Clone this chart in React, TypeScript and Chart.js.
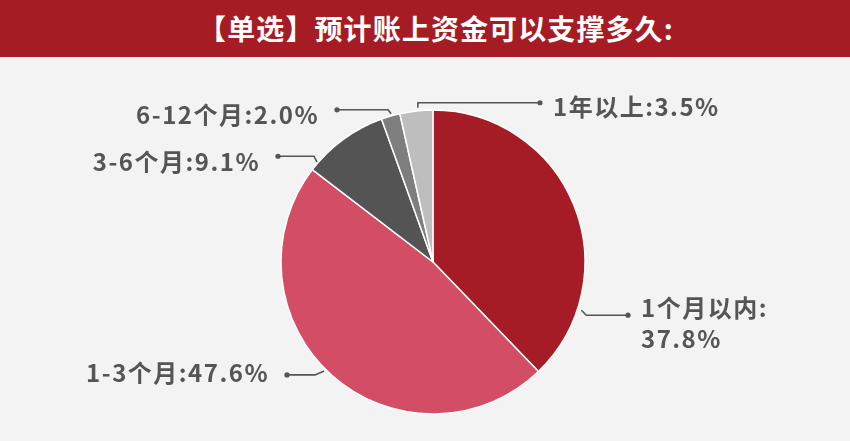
import React, { useEffect, useRef } from "react";
import { Chart, registerables } from "chart.js";

Chart.register(...registerables);

const TITLE = "【单选】预计账上资金可以支撑多久:";
const CATEGORIES = ["1个月以内", "1-3个月", "3-6个月", "6-12个月", "1年以上"];
const VALUES = [37.8, 47.6, 9.1, 2.0, 3.5];
const LABEL_LINES = [
  ["1个月以内:", "37.8%"],
  ["1-3个月:47.6%"],
  ["3-6个月:9.1%"],
  ["6-12个月:2.0%"],
  ["1年以上:3.5%"],
];
const COLORS = ["#A61C26", "#D34D64", "#545454", "#7E7E7E", "#BEBEBE"];

// leader-line layout (angle in degrees clockwise from top, offsets in px)
const LEADERS = [
  { angle: 108, extra: 4, ex: 5, ey: 5, dotDx: 195, side: "left", textDy: -7, lineGap: 31 },
  { angle: 225, extra: 2, ex: -9, ey: 4, dotDx: -146, side: "right", textDy: -2, lineGap: 0 },
  { angle: 310.7, extra: 1, ex: -3, ey: -6, dotDx: -155, side: "right", textDy: 6, lineGap: 0 },
  { angle: 344.2, extra: 2, ex: -3, ey: -4, dotDx: -96, side: "right", textDy: 5, lineGap: 0 },
  { angle: 354.4, extra: 3, ex: 0, ey: -5, dotDx: 107, side: "left", textDy: 4, lineGap: 0 },
];

const FONT = '"Noto Sans CJK SC", "Noto Sans", sans-serif';

const leaderPlugin = {
  id: "leaders",
  afterDraw(chart: any) {
    const meta = chart.getDatasetMeta(0);
    const ctx = chart.ctx as CanvasRenderingContext2D;
    ctx.save();
    meta.data.forEach((arc: any, i: number) => {
      const L = LEADERS[i];
      const cx = arc.x;
      const cy = arc.y;
      const r = arc.outerRadius + L.extra;
      const a = (L.angle * Math.PI) / 180;
      const x0 = cx + r * Math.sin(a);
      const y0 = cy - r * Math.cos(a);
      const x1 = x0 + L.ex;
      const y1 = y0 + L.ey;
      const xd = cx + L.dotDx;
      ctx.strokeStyle = "#555555";
      ctx.lineWidth = 1.6;
      ctx.beginPath();
      ctx.moveTo(x0, y0);
      ctx.lineTo(x1, y1);
      ctx.lineTo(xd, y1);
      ctx.stroke();
      ctx.fillStyle = "#555555";
      ctx.beginPath();
      ctx.arc(xd, y1, 2.6, 0, Math.PI * 2);
      ctx.fill();
      (ctx as any).letterSpacing = "1.5px";
      ctx.textBaseline = "middle";
      const lines = LABEL_LINES[i];
      lines.forEach((t, k) => {
        ctx.font = `bold 24px ${FONT}`;
        if (L.side === "left") {
          ctx.textAlign = "left";
          ctx.fillText(t, xd + 13, y1 + L.textDy + k * L.lineGap);
        } else {
          ctx.textAlign = "right";
          ctx.fillText(t, xd - 18, y1 + L.textDy + k * L.lineGap);
        }
      });
    });
    ctx.restore();
  },
};

export default function App() {
  const ref = useRef<HTMLCanvasElement | null>(null);
  useEffect(() => {
    document.body.style.margin = "0";
    const chart = new Chart(ref.current as HTMLCanvasElement, {
      type: "pie",
      data: {
        labels: CATEGORIES,
        datasets: [
          {
            data: VALUES,
            backgroundColor: COLORS,
            borderColor: "#ffffff",
            borderWidth: 1.5,
            radius: 152,
          } as any,
        ],
      },
      options: {
        animation: false,
        responsive: false,
        layout: { padding: { left: 16, right: 0, top: 26, bottom: 0 } },
        plugins: { legend: { display: false }, tooltip: { enabled: false } },
      },
      plugins: [leaderPlugin],
    });
    return () => chart.destroy();
  }, []);
  return (
    <div style={{ position: "relative", width: 850, height: 441, background: "#F3F3F3", overflow: "hidden" }}>
      <div
        style={{
          height: 57,
          background: "#A61C24",
          color: "#ffffff",
          fontFamily: FONT,
          fontWeight: 700,
          fontSize: 28,
          lineHeight: "56px",
          textAlign: "center",
          paddingLeft: 22,
          letterSpacing: 1.1,
        }}
      >
        {TITLE}
      </div>
      <canvas ref={ref} width={850} height={384} style={{ display: "block" }} />
    </div>
  );
}
